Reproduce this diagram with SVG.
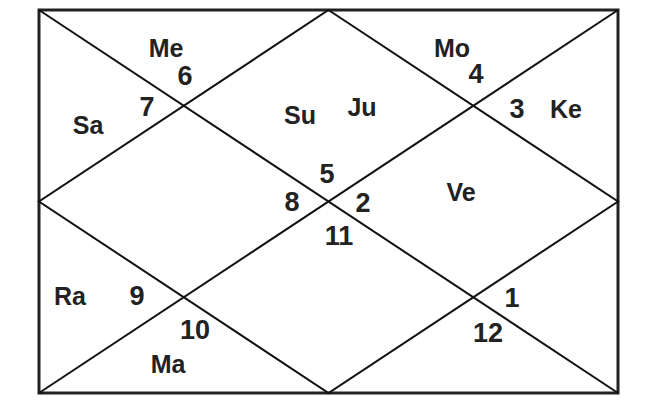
<svg xmlns="http://www.w3.org/2000/svg" width="650" height="400" viewBox="0 0 650 400">
<style>
.frame{fill:none;stroke:#222;stroke-width:3}
.ln{stroke:#111;stroke-width:2;fill:none}
.pl{font-family:"Liberation Sans",Arial,sans-serif;font-weight:bold;font-size:25px;fill:#222;text-anchor:middle}
.num{font-family:"Liberation Sans",Arial,sans-serif;font-weight:bold;font-size:27px;fill:#222;text-anchor:middle}
</style>
<rect width="650" height="400" fill="#fff"/>
<g id="connectors">
<rect class="frame" x="39" y="10" width="579" height="383"/>
<line class="ln" x1="39" y1="10" x2="618" y2="393"/>
<line class="ln" x1="618" y1="10" x2="39" y2="393"/>
<polygon class="ln" points="328.5,10 618,201.5 328.5,393 39,201.5"/>
</g>
<g id="house1"><text class="num" x="512" y="307">1</text><text class="pl" x="461" y="201">Ve</text></g>
<g id="house2"><text class="num" x="363" y="212">2</text></g>
<g id="house3"><text class="num" x="517" y="118">3</text><text class="pl" x="566" y="118">Ke</text></g>
<g id="house4"><text class="num" x="476" y="83">4</text><text class="pl" x="452" y="57">Mo</text></g>
<g id="house5"><text class="num" x="327" y="183">5</text><text class="pl" x="300" y="124">Su</text><text class="pl" x="362" y="116">Ju</text></g>
<g id="house6"><text class="num" x="185" y="85">6</text><text class="pl" x="166" y="57">Me</text></g>
<g id="house7"><text class="num" x="147" y="116">7</text><text class="pl" x="88" y="134">Sa</text></g>
<g id="house8"><text class="num" x="292" y="211">8</text></g>
<g id="house9"><text class="num" x="137" y="305">9</text><text class="pl" x="70" y="305">Ra</text></g>
<g id="house10"><text class="num" x="195" y="339">10</text><text class="pl" x="168" y="373">Ma</text></g>
<g id="house11"><text class="num" x="339" y="245">11</text></g>
<g id="house12"><text class="num" x="488" y="342">12</text></g>
</svg>
